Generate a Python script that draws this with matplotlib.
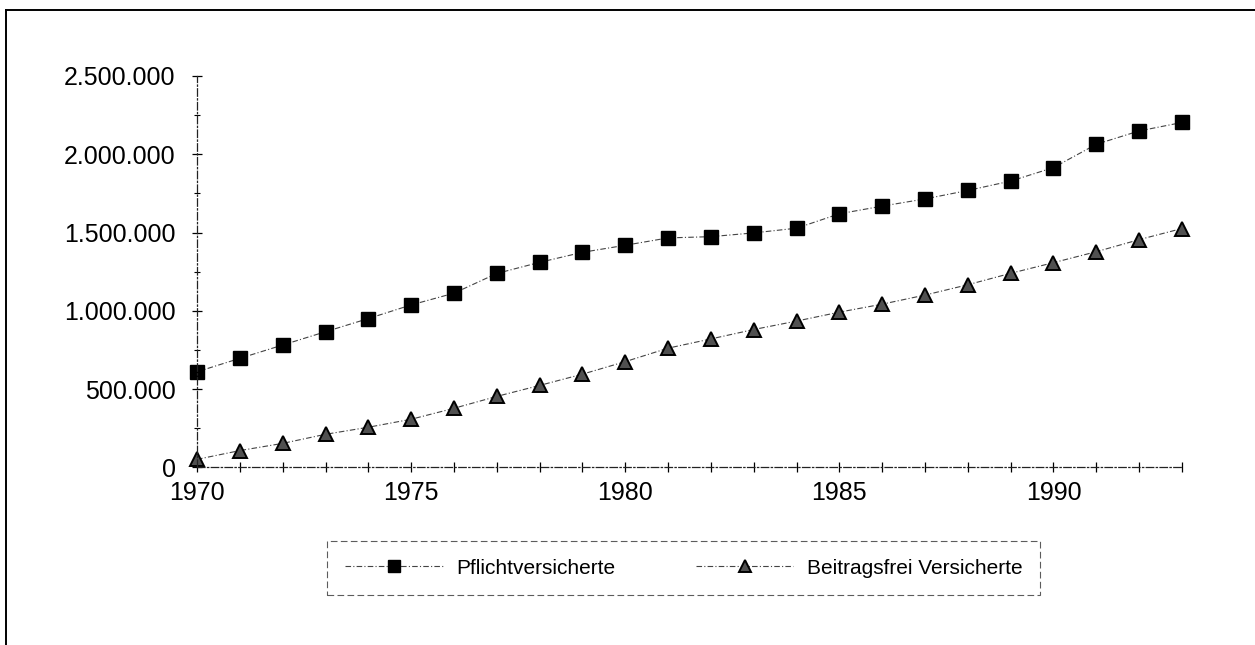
import matplotlib.pyplot as plt
from matplotlib.lines import Line2D
from matplotlib.ticker import FuncFormatter, MultipleLocator

plt.rcParams['font.family'] = ['Liberation Sans', 'DejaVu Sans']

jahre = list(range(1970, 1994))
pflicht = [611000, 697000, 782000, 867000, 951000, 1038000, 1113000, 1239000,
           1310000, 1374000, 1419000, 1466000, 1474000, 1498000, 1528000, 1620000,
           1669000, 1715000, 1769000, 1829000, 1915000, 2064000, 2149000, 2203000]
beitragsfrei = [52000, 108000, 154000, 212000, 257000, 308000, 378000, 454000,
                524000, 596000, 676000, 762000, 821000, 881000, 935000, 992000,
                1043000, 1101000, 1167000, 1240000, 1308000, 1378000, 1455000, 1526000]


def punkt_format(v, pos):
    return f'{int(round(v)):,}'.replace(',', '.')


fig = plt.figure(figsize=(12.55, 6.45), dpi=100)
ax = fig.add_axes([0.157, 0.2752, 0.7848, 0.607])

linie = (0, (5, 2, 1, 2))
ax.plot(jahre, pflicht, color='#444444', lw=0.8, ls=linie, marker='s', ms=10,
        mfc='black', mec='black', label='Pflichtversicherte', clip_on=False)
ax.plot(jahre, beitragsfrei, color='#444444', lw=0.8, ls=linie, marker='^', ms=10,
        mfc='#505050', mec='black', mew=1.4, label='Beitragsfrei Versicherte',
        clip_on=False)

ax.set_xlim(1970, 1993)
ax.set_ylim(0, 2500000)
ax.set_xticks(jahre)
ax.set_xticklabels([str(j) if j % 5 == 0 else '' for j in jahre])
ax.yaxis.set_major_locator(MultipleLocator(500000))
ax.yaxis.set_minor_locator(MultipleLocator(250000))
ax.yaxis.set_major_formatter(FuncFormatter(punkt_format))

for s in ['top', 'right']:
    ax.spines[s].set_visible(False)
for s in ['left', 'bottom']:
    ax.spines[s].set_linestyle((0, (6, 2, 1, 2)))
    ax.spines[s].set_color('#222222')
    ax.spines[s].set_linewidth(0.9)

ax.tick_params(axis='y', which='major', direction='inout', length=7, width=0.9,
               labelsize=18, pad=12)
ax.tick_params(axis='y', which='minor', direction='inout', length=5, width=0.8)
ax.tick_params(axis='x', which='major', direction='inout', length=7, width=0.9,
               labelsize=18, pad=6.5)

leg = fig.legend(loc='upper left', ncol=2, fontsize=15,
                 handlelength=4.7, handletextpad=0.65, columnspacing=3.85,
                 borderaxespad=0, fancybox=False, borderpad=0.85, markerscale=0.8)
leg.set_bbox_to_anchor((0.2606, 1 - 541 / 645), transform=fig.transFigure)
leg.get_frame().set_linestyle((0, (6, 3)))
leg.get_frame().set_edgecolor('#333333')
leg.get_frame().set_linewidth(0.8)

# Rahmen um die ganze Grafik
fig.add_artist(Line2D([0.0048, 1.0], [0.9845, 0.9845], color='black', lw=1.4,
                      transform=fig.transFigure))
fig.add_artist(Line2D([0.0048, 0.0048], [0.0, 0.9845], color='black', lw=1.4,
                      transform=fig.transFigure))

fig.savefig('out.png', dpi=100)
